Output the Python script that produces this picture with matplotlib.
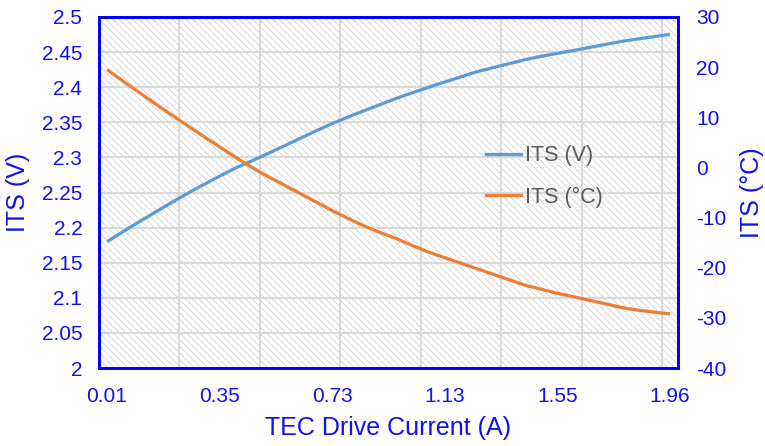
import matplotlib
matplotlib.use("Agg")
import matplotlib.pyplot as plt
from matplotlib.patches import Rectangle
from matplotlib.lines import Line2D

plt.rcParams['font.family'] = ['Liberation Sans', 'DejaVu Sans']
plt.rcParams['axes.unicode_minus'] = False
plt.rcParams['hatch.linewidth'] = 0.6

# ---- data (36 measurement points, category axis) ----
tick_labels = ["0.01", "0.35", "0.73", "1.13", "1.55", "1.96"]
tick_every = 7

its_v = [2.180, 2.1943, 2.2083, 2.2220, 2.2355, 2.2487, 2.2612, 2.2733, 2.2850,
         2.2950, 2.3055, 2.3162, 2.3270, 2.3378, 2.3482, 2.3577, 2.3666, 2.3754,
         2.3842, 2.3922, 2.4000, 2.4074, 2.4148, 2.4221, 2.4278, 2.4335, 2.4393,
         2.4440, 2.4482, 2.4523, 2.4566, 2.4610, 2.4652, 2.4687, 2.4720, 2.4754]

its_c = [19.5, 17.2, 14.95, 12.7, 10.5, 8.35, 6.2, 4.1, 2.0, 0.0, -1.8, -3.5,
         -5.2, -6.9, -8.6, -10.2, -11.7, -13.0, -14.2, -15.6, -16.9, -18.0,
         -19.1, -20.2, -21.3, -22.4, -23.5, -24.3, -25.1, -25.8, -26.5, -27.2,
         -27.95, -28.45, -28.85, -29.2]

left_ticks = [2.0, 2.05, 2.1, 2.15, 2.2, 2.25, 2.3, 2.35, 2.4, 2.45, 2.5]
left_tick_labels = ["2", "2.05", "2.1", "2.15", "2.2", "2.25", "2.3", "2.35", "2.4", "2.45", "2.5"]
right_ticks = [-40, -30, -20, -10, 0, 10, 20, 30]

BLUE_TXT = "#1010f0"
C_V = "#5B9BD5"
C_C = "#ED7D31"
GRID = "#d9d9d9"

fig = plt.figure(figsize=(7.65, 4.46), dpi=100)
ax = fig.add_axes([99/765, 1 - 368/446, 579/765, 351/446])
ax.set_facecolor("white")

n = len(its_v)
xs = list(range(n))

# hatched background
ax.add_patch(Rectangle((0, 0), 1, 1, transform=ax.transAxes, facecolor="white",
                       edgecolor="#d0d0d0", hatch="\\" * 5, lw=0, zorder=0))

ax.set_xlim(-0.5, n - 0.5)
ax.set_ylim(2.0, 2.5)

# gridlines
for y in left_ticks[1:-1]:
    ax.axhline(y, color=GRID, lw=1.5, zorder=1)
for b in range(5, n, 5):
    ax.axvline(b - 0.5, color=GRID, lw=1.5, zorder=1)

ax.plot(xs, its_v, color=C_V, lw=2.3, zorder=3, solid_capstyle="butt")

ax.set_yticks(left_ticks)
ax.set_yticklabels(left_tick_labels)
ax.set_xticks(xs[::tick_every])
ax.set_xticklabels(tick_labels)
ax.tick_params(axis="both", length=0, labelsize=15, colors=BLUE_TXT)
ax.tick_params(axis="y", pad=12)
ax.tick_params(axis="x", pad=14)

ax2 = ax.twinx()
ax2.set_ylim(-40, 30)
ax2.set_yticks(right_ticks)
ax2.plot(xs, its_c, color=C_C, lw=2.3, zorder=3, solid_capstyle="butt")
ax2.tick_params(axis="y", length=0, labelsize=15, colors=BLUE_TXT, pad=13)

for a in (ax, ax2):
    for s in a.spines.values():
        s.set_color("#0000ff")
        s.set_linewidth(2)

ax.set_xlabel("TEC Drive Current (A)", fontsize=18, color=BLUE_TXT, va="center")
ax.xaxis.set_label_coords(0.499, -0.171)
ax.set_ylabel("ITS (V)", fontsize=18, color=BLUE_TXT, va="center", ha="center")
ax.yaxis.set_label_coords(-0.140, 0.5)
ax2.set_ylabel("ITS (°C)", fontsize=18, color=BLUE_TXT, va="center", ha="center")
ax2.yaxis.set_label_coords(1.128, 0.5)

handles = [Line2D([], [], color=C_V, lw=2.3), Line2D([], [], color=C_C, lw=2.3)]
leg = ax2.legend(handles, ["ITS (V)", "ITS (°C)"], loc="upper left",
                 bbox_to_anchor=(0.668, 0.635), frameon=False, fontsize=15.5,
                 handlelength=1.63, handletextpad=0.2, labelspacing=0.95,
                 borderpad=0, borderaxespad=0)
for t in leg.get_texts():
    t.set_color("#595959")

fig.savefig("out.png", dpi=100)
